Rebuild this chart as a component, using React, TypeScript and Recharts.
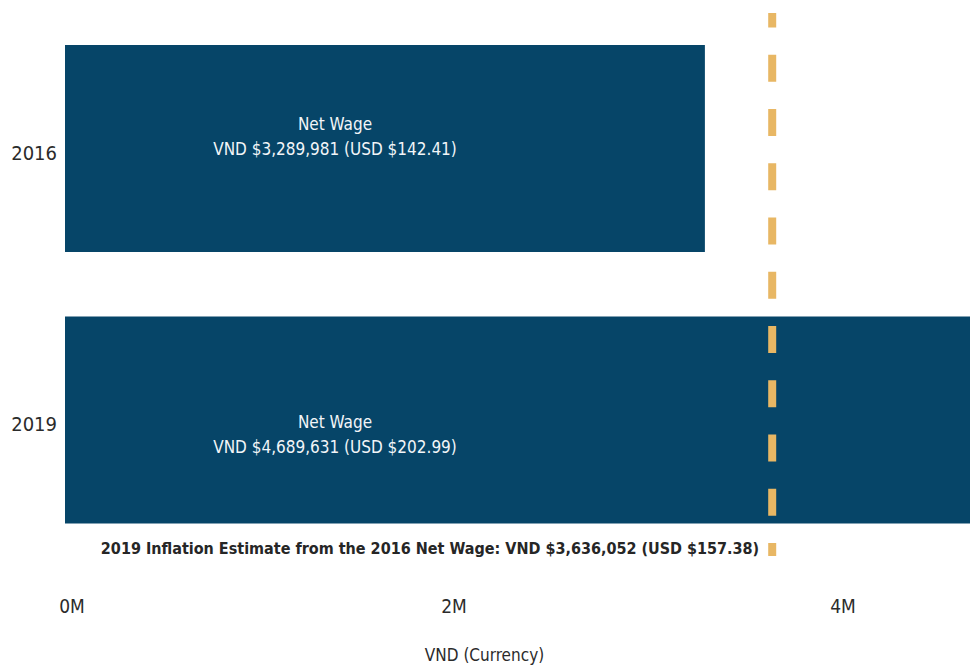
import { BarChart, Bar, XAxis, YAxis, ReferenceLine, LabelList } from "recharts";

const years = ["2016", "2019"];
const netWageVnd = [3289981, 4689631];
const netWageUsd = [142.41, 202.99];
const inflationVnd = 3636052;
const inflationUsd = 157.38;
const xTicks = [0, 2000000, 4000000];
const xMax = 4653000;

const data = years.map((year, i) => ({ year, vnd: netWageVnd[i], usd: netWageUsd[i] }));

const FONT = "'Liberation Sans Narrow', 'DejaVu Sans Condensed', sans-serif";
const money = (vnd: number, usd: number) =>
  `VND $${vnd.toLocaleString("en-US")} (USD $${usd.toFixed(2)})`;

function WageLabel(props: any) {
  const vb = props.viewBox || props;
  const i = props.index ?? 0;
  const row = data[i];
  if (!row) return null;
  // text block sits a bit off the bar middle in the original
  const shift = i === 0 ? -12 : 15;
  const cx = vb.x + 270;
  const cy = vb.y + vb.height / 2 + shift;
  return (
    <text textAnchor="middle" fill="#f2f5f8" fontSize={17} fontFamily={FONT}>
      <tspan x={cx} y={cy - 12.5} dy="0.35em">Net Wage</tspan>
      <tspan x={cx} y={cy + 12.5} dy="0.35em">{money(row.vnd, row.usd)}</tspan>
    </text>
  );
}

function InflationLabel(props: any) {
  const vb = props.viewBox;
  return (
    <text
      x={vb.x - 13}
      y={vb.y + vb.height - 8}
      dy="0.35em"
      textAnchor="end"
      fill="#262626"
      fontSize={16}
      fontWeight="bold"
      fontFamily={FONT}
    >
      {`2019 Inflation Estimate from the 2016 Net Wage: ${money(inflationVnd, inflationUsd)}`}
    </text>
  );
}

function XTick({ x, y, payload, index }: any) {
  const nudge = index === 0 ? 7 : 0;
  return (
    <text x={x + nudge} y={y + 50} dy="0.35em" textAnchor="middle" fill="#2b2b2b" fontSize={19} fontFamily={FONT}>
      {`${payload.value / 1000000}M`}
    </text>
  );
}

function YTick({ x, y, payload }: any) {
  return (
    <text x={x} y={y + 4} dy="0.35em" textAnchor="end" fill="#2b2b2b" fontSize={20} fontFamily={FONT}>
      {payload.value}
    </text>
  );
}

function AxisTitle(props: any) {
  const vb = props.viewBox;
  return (
    <text x={vb.x + vb.width / 2 - 33} y={vb.y + 99} dy="0.35em" textAnchor="middle" fill="#2b2b2b" fontSize={17} fontFamily={FONT}>
      VND (Currency)
    </text>
  );
}

export default function App() {
  return (
    <div style={{ position: "absolute", left: 0, top: 0, background: "#fff" }}>
      <BarChart
        width={970}
        height={665}
        data={data}
        layout="vertical"
        margin={{ top: 13, right: 0, bottom: 0, left: 0 }}
      >
        <XAxis
          type="number"
          domain={[0, xMax]}
          ticks={xTicks}
          allowDataOverflow
          axisLine={false}
          tickLine={false}
          tickSize={0}
          tickMargin={0}
          height={109}
          tick={<XTick />}
          label={<AxisTitle />}
        />
        <YAxis
          type="category"
          dataKey="year"
          width={65}
          axisLine={false}
          tickLine={false}
          tickSize={0}
          tickMargin={8}
          tick={<YTick />}
        />
        <Bar dataKey="vnd" fill="#064568" barSize={207} isAnimationActive={false}>
          <LabelList dataKey="vnd" content={<WageLabel />} />
        </Bar>
        <ReferenceLine
          x={inflationVnd}
          stroke="#e8b764"
          strokeWidth={8}
          strokeDasharray="27 27.25"
          strokeDashoffset={14}
          label={<InflationLabel />}
        />
      </BarChart>
    </div>
  );
}
